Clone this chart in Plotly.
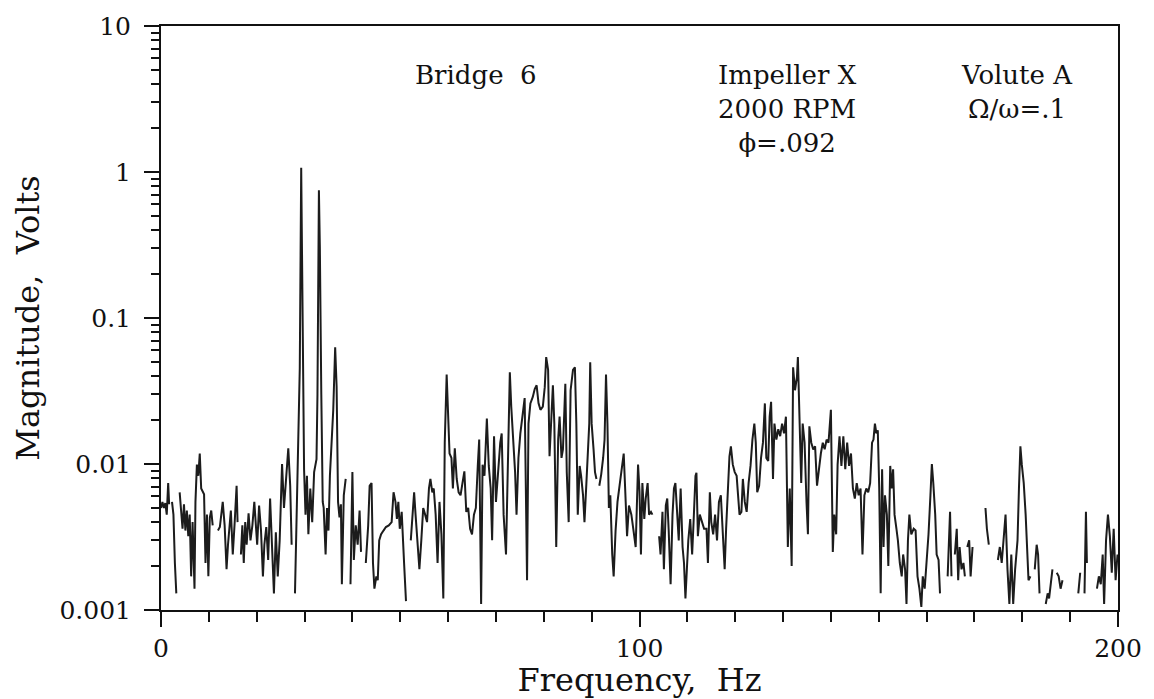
import plotly.graph_objects as go

# Spectrum (None = gap in trace)
freq_hz = [
    0.0, 0.3, 0.6, 0.9, 1.2, 1.5, 1.7, 2.0,
    2.3, 2.6, 2.9, 3.2, 3.5,
    3.9, 4.2, 4.5, 4.8, 5.1, 5.4, 5.7, 6.0, 6.3, 6.6, 7.0, 7.2, 7.5, 7.8, 8.1, 8.4, 8.7, 9.0, 9.3, 9.6, 9.9, 10.2, 10.5, 10.8, 11.3,
    11.9, 12.3, 12.9, 13.3, 13.7, 14.0, 14.6, 15.0, 15.4, 15.8, 16.0, 16.3,
    16.7, 17.0, 17.3, 17.6, 17.9, 18.3, 18.7, 19.1, 19.5, 19.8, 20.1, 20.5, 20.9, 21.3, 21.6, 22.0, 22.4, 22.8, 23.2, 23.6, 24.0, 24.4, 24.8, 25.3, 25.7, 26.2, 26.6, 27.0, 27.3, 27.6,
    28.0, 28.3, 28.6, 29.0, 29.3, 29.6, 29.9, 30.2, 30.5, 30.8, 31.2, 31.6, 32.0, 32.5, 32.7, 33.0, 33.2, 33.5, 33.8, 34.0, 34.4, 34.7, 35.0, 35.3, 36.0, 36.4, 36.7, 37.0, 37.3, 37.6, 37.8, 38.2, 38.6, 39.1,
    39.6, 40.0, 40.3, 40.7, 41.1, 41.5, 41.8, 42.3,
    42.8, 43.3, 43.6, 44.0, 44.3, 44.6, 45.0, 45.3, 45.6, 46.0, 46.5, 47.0, 47.6, 48.2, 48.6, 49.0, 49.3,
    49.6, 49.9, 50.3, 50.8, 51.2, 51.7,
    52.2, 52.6, 52.9, 53.2, 53.6, 54.0, 54.4, 54.8, 55.2, 55.6, 56.0, 56.3, 56.7, 57.0, 57.4, 57.8, 58.2, 58.6, 59.0, 59.3, 59.7, 60.0, 60.3, 60.7, 61.0, 61.4, 61.8, 62.2, 62.6, 63.0, 63.4, 63.8, 64.2, 64.6, 65.0, 65.4, 65.8, 66.2, 66.5, 66.9, 67.2, 67.6, 68.1, 68.5, 68.9, 69.2, 69.6, 70.0, 70.5, 70.9, 71.2, 71.6, 72.1, 72.5, 72.9, 73.2, 73.6, 74.0, 74.3, 74.7, 75.1, 75.5, 76.0, 76.5, 76.8, 77.2, 77.7, 78.1, 78.5, 78.9, 79.3, 79.8, 80.2, 80.5, 80.9, 81.2, 81.5, 81.9, 82.2, 82.6, 83.0, 83.3, 83.7, 84.0, 84.5, 84.8, 85.2, 85.6, 86.1, 86.5, 86.8, 87.1, 87.5, 87.8, 88.2, 88.5, 88.9, 89.2, 89.5, 89.7, 90.0, 90.4, 90.7, 91.0, 91.3,
    91.6, 92.0, 92.4, 92.7, 93.0, 93.3, 93.6, 93.9, 94.3, 94.6, 95.0, 95.4, 95.9, 96.3, 96.7, 97.0, 97.4, 97.8, 98.3, 98.7, 99.2, 99.7, 100.0, 100.3, 100.6, 101.0, 101.3, 101.7, 102.0, 102.4, 102.7, 103.4,
    104.1, 104.4, 104.8, 105.1, 105.5, 105.8, 106.1, 106.5, 106.9, 107.2, 107.5, 107.9, 108.2, 108.6, 109.0, 109.3, 109.6, 109.9, 110.2, 110.6, 111.0, 111.3, 111.7, 111.9, 112.2, 112.6, 113.0, 113.5, 114.0, 114.3, 114.7, 115.0, 115.4, 115.8, 116.2, 116.6, 117.0, 117.4, 117.8, 118.1, 118.4, 118.8, 119.1, 119.5, 119.9, 120.3, 120.6, 120.9, 121.3, 121.6, 122.0, 122.4, 122.8, 123.2, 123.6, 124.0, 124.3, 124.6, 125.0, 125.4, 125.8, 126.2, 126.5, 126.9, 127.2, 127.5, 127.9, 128.2, 128.6, 129.0, 129.4, 129.8, 130.2, 130.6, 131.0, 131.4, 131.8, 132.1, 132.5, 132.9, 133.1, 133.4, 133.8, 134.1, 134.5, 134.9, 135.2, 135.5, 135.9, 136.3, 136.7, 137.1, 137.5, 137.9, 138.3, 138.7, 139.1, 139.5, 140.0, 140.4, 140.7, 141.1, 141.4, 141.8, 142.2, 142.6, 143.0, 143.4, 143.8, 144.2, 144.6, 145.0, 145.4, 145.8, 146.2, 146.6, 147.0, 147.4, 147.8, 148.2, 148.6, 148.9,
    149.2, 149.5, 149.8, 150.1, 150.4, 150.7, 151.0, 151.3, 151.7, 152.0, 152.4, 152.7, 153.0, 153.3, 153.7, 154.0, 154.4, 154.8, 155.1, 155.5, 155.8, 156.1, 156.4, 156.8, 157.3, 157.7, 158.1, 158.5, 158.9, 159.2, 159.6, 160.0, 160.4, 160.8, 161.1, 161.4, 161.8, 162.1, 162.5, 162.8, 163.5,
    164.4, 164.9, 165.2, 165.5,
    165.9, 166.3, 166.6, 166.9, 167.3, 167.7, 168.0, 168.2,
    168.5, 168.9, 169.2, 169.6, 170.5,
    172.3, 172.6, 173.0, 173.8,
    174.9, 175.3, 175.7, 176.1, 176.5, 176.9, 177.3, 177.7, 178.1, 178.5, 179.0, 179.3, 179.6, 179.9, 180.3, 180.7, 181.0, 181.3, 181.7, 182.1,
    182.6, 183.0, 183.3, 183.6, 184.2,
    184.9, 185.3, 185.6, 186.0, 186.3, 186.7,
    187.2, 187.6, 188.0, 188.4, 190.0,
    191.7, 192.1, 192.5,
    193.0, 193.3, 193.5, 194.5,
    195.6, 196.0, 196.4, 196.8, 197.1, 197.5, 197.9, 198.3, 198.7, 199.1, 199.5, 199.9,
]

magnitude_v = [
    0.0050, 0.0055, 0.0050, 0.0054, 0.0045, 0.0074, 0.0053, None,
    0.0055, 0.0045, 0.0021, 0.0013, None,
    0.0064, 0.0050, 0.0036, 0.0053, 0.0035, 0.0048, 0.0032, 0.0045, 0.0017, 0.0040, 0.0014, 0.0055, 0.0099, 0.0083, 0.0118, 0.0068, 0.0065, 0.0062, 0.0021, 0.0045, 0.0017, 0.0043, 0.0048, 0.0038, None,
    0.0035, 0.0037, 0.0055, 0.0038, 0.0019, 0.0028, 0.0048, 0.0024, 0.0040, 0.0071, 0.0040, None,
    0.0024, 0.0038, 0.0021, 0.0040, 0.0028, 0.0046, 0.0030, 0.0038, 0.0055, 0.0040, 0.0028, 0.0052, 0.0035, 0.0017, 0.0028, 0.0037, 0.0022, 0.0058, 0.0028, 0.0013, 0.0034, 0.0017, 0.0030, 0.0100, 0.0050, 0.0088, 0.0128, 0.0071, 0.0028, None,
    0.0013, 0.0040, 0.0140, 0.045, 1.07, 0.045, 0.0092, 0.0045, 0.0083, 0.0033, 0.0068, 0.0040, 0.0088, 0.0108, 0.030, 0.75, 0.30, 0.030, 0.0055, 0.0050, 0.0024, 0.0050, 0.0035, 0.0083, 0.0235, 0.063, 0.034, 0.0055, 0.0043, 0.0053, 0.0015, 0.0061, 0.0079, None,
    0.0015, 0.0088, 0.0022, 0.0038, 0.0028, 0.0048, 0.0025, None,
    0.0021, 0.0038, 0.0071, 0.0074, 0.0021, 0.0014, 0.0017, 0.0016, 0.0030, 0.0033, 0.0035, 0.0037, 0.0038, 0.0040, 0.0064, 0.0055, 0.0042,
    0.0055, 0.0036, 0.0047, 0.0021, 0.00115, None,
    0.0030, 0.0052, 0.0064, 0.0045, 0.0030, 0.0019, 0.0030, 0.0050, 0.0045, 0.0040, 0.0068, 0.0079, 0.0064, 0.0068, 0.0045, 0.0021, 0.0055, 0.0033, 0.0012, 0.0140, 0.041, 0.0235, 0.0118, 0.0110, 0.0068, 0.0128, 0.0079, 0.0064, 0.0061, 0.0074, 0.0089, 0.0047, 0.0050, 0.0036, 0.0033, 0.0045, 0.0050, 0.0097, 0.0147, 0.0011, 0.0099, 0.0083, 0.0205, 0.0097, 0.0068, 0.0030, 0.0155, 0.0055, 0.0097, 0.0140, 0.0162, 0.0045, 0.0024, 0.0110, 0.0425, 0.0247, 0.0140, 0.0088, 0.0045, 0.0110, 0.0162, 0.0202, 0.0283, 0.0016, 0.0189, 0.0260, 0.0288, 0.0326, 0.0346, 0.0260, 0.0235, 0.0247, 0.0336, 0.054, 0.0442, 0.0113, 0.0189, 0.0346, 0.0189, 0.0027, 0.0147, 0.0211, 0.0110, 0.0126, 0.0354, 0.0088, 0.0040, 0.0320, 0.0442, 0.046, 0.0189, 0.0045, 0.0097, 0.0083, 0.0061, 0.0040, 0.0074, 0.0118, 0.0189, 0.0497, 0.0189, 0.0126, 0.0088, 0.0079, None,
    0.0071, 0.0085, 0.0110, 0.0147, 0.041, 0.0189, 0.0050, 0.0061, 0.0024, 0.0017, 0.0035, 0.0055, 0.0074, 0.0097, 0.0118, 0.0068, 0.0032, 0.0052, 0.0045, 0.0036, 0.0027, 0.0099, 0.0065, 0.0024, 0.0074, 0.0042, 0.0058, 0.0074, 0.0045, 0.0047, 0.0045, None,
    0.0032, 0.0024, 0.0047, 0.0019, 0.0052, 0.0058, 0.0035, 0.0015, 0.0045, 0.0068, 0.0074, 0.0045, 0.0030, 0.0068, 0.0027, 0.0021, 0.0012, 0.0019, 0.0030, 0.0042, 0.0024, 0.0040, 0.0083, 0.0087, 0.0032, 0.0045, 0.0040, 0.0036, 0.0036, 0.0021, 0.0064, 0.0040, 0.0033, 0.0045, 0.0030, 0.0055, 0.0061, 0.0030, 0.0019, 0.0036, 0.0061, 0.0113, 0.0132, 0.0099, 0.0088, 0.0083, 0.0061, 0.0045, 0.0047, 0.0079, 0.0055, 0.0047, 0.0074, 0.0097, 0.0147, 0.0189, 0.0140, 0.0064, 0.0071, 0.0110, 0.0140, 0.0260, 0.0110, 0.0105, 0.0211, 0.0267, 0.0079, 0.0189, 0.0147, 0.0173, 0.0155, 0.0189, 0.0162, 0.0211, 0.0027, 0.0068, 0.0020, 0.046, 0.0320, 0.0393, 0.054, 0.0189, 0.0074, 0.0189, 0.0140, 0.0055, 0.0033, 0.0181, 0.0140, 0.0126, 0.0132, 0.0071, 0.0097, 0.0118, 0.0140, 0.0126, 0.0147, 0.0140, 0.0235, 0.0025, 0.0045, 0.0033, 0.0099, 0.0155, 0.0097, 0.0155, 0.0092, 0.0140, 0.0097, 0.0118, 0.0068, 0.0058, 0.0074, 0.0061, 0.0068, 0.0024, 0.0061, 0.0068, 0.0064, 0.0074, 0.0140, 0.0147,
    0.0189, 0.0162, 0.0170, 0.0068, 0.0013, 0.0092, 0.0027, 0.0061, 0.0045, 0.0020, 0.0097, 0.0068, 0.0092, 0.0045, 0.0036, 0.0030, 0.0021, 0.0017, 0.0024, 0.0019, 0.0011, 0.0030, 0.0045, 0.0033, 0.0036, 0.0035, 0.0017, 0.0014, 0.00105, 0.0017, 0.0014, 0.0021, 0.0033, 0.0061, 0.0100, 0.0074, 0.0045, 0.0024, 0.0022, 0.0013, None,
    0.0017, 0.0047, 0.0017, None,
    0.0024, 0.0036, 0.0016, 0.0027, 0.0019, 0.0021, 0.0017, None,
    0.0027, 0.0030, 0.0017, 0.0027, None,
    0.0050, 0.0036, 0.0028, None,
    0.0022, 0.0027, 0.0021, 0.0030, 0.0045, 0.0019, 0.0011, 0.0024, 0.0011, 0.0019, 0.0030, 0.0068, 0.0132, 0.0099, 0.0074, 0.0045, 0.0024, 0.0016, 0.0017, None,
    0.0019, 0.0028, 0.0024, 0.0013, None,
    0.0011, 0.0013, 0.0012, 0.0016, 0.0019, None,
    0.0018, 0.0017, 0.0014, 0.0016, None,
    0.0013, 0.0018, None,
    0.0013, 0.0047, 0.0021, None,
    0.0014, 0.0017, 0.0015, 0.0024, 0.0011, 0.0030, 0.0045, 0.0032, 0.0018, 0.0036, 0.0016, 0.0024,
]

x_tick_vals = [0, 100, 200]
x_tick_text = ["0", "100", "200"]
y_tick_vals = [0.001, 0.01, 0.1, 1, 10]
y_tick_text = ["0.001", "0.01", "0.1", "1", "10"]
y_minor_vals = [m * 10.0 ** e for e in (-3, -2, -1, 0) for m in range(2, 10)]

FONT = "DejaVu Serif"
INK = "#111"

# plot area geometry (px) used to place the paper-referenced labels
L, R, T, B = 161, 1127, 23, 616
PW, PH = R - L, B - T

def px(xp):
    return (xp - L) / PW

def py(yp):
    return (B - yp) / PH

fig = go.Figure()
fig.add_trace(go.Scatter(
    x=freq_hz, y=magnitude_v, mode="lines",
    line=dict(color="#1c1c1c", width=2),
    connectgaps=False, hoverinfo="skip", showlegend=False,
))

ann_font = dict(family=FONT, size=26, color=INK)
fig.add_annotation(text="Bridge  6", x=px(479), y=py(73),
                   xref="paper", yref="paper", showarrow=False,
                   xanchor="center", yanchor="middle", font=ann_font)
fig.add_annotation(text="Impeller X<br>2000 RPM<br>\u03d5=.092", x=px(793), y=py(73 - 17),
                   xref="paper", yref="paper", showarrow=False, align="center",
                   xanchor="center", yanchor="top", font=ann_font)
fig.add_annotation(text="Volute A<br>\u03a9/\u03c9=.1", x=px(1025), y=py(73 - 17),
                   xref="paper", yref="paper", showarrow=False, align="center",
                   xanchor="center", yanchor="top", font=ann_font)

fig.update_layout(
    width=1154, height=699,
    margin=dict(l=L, r=1154 - R, t=T, b=699 - B),
    paper_bgcolor="white", plot_bgcolor="white",
    font=dict(family=FONT, color=INK),
)
fig.update_xaxes(
    range=[0, 200], showgrid=False, zeroline=False,
    showline=True, linecolor=INK, linewidth=2, mirror=True,
    tickmode="array", tickvals=x_tick_vals, ticktext=x_tick_text,
    ticks="outside", ticklen=15, tickwidth=2, tickcolor=INK,
    minor=dict(dtick=10, tick0=0, ticks="outside", ticklen=10, tickwidth=1.5, tickcolor=INK, showgrid=False),
    tickfont=dict(family=FONT, size=25, color=INK),
    title=dict(text="Frequency,  Hz", font=dict(family=FONT, size=32, color=INK), standoff=2),
)
fig.update_yaxes(
    type="log", range=[-3, 1], showgrid=False, zeroline=False,
    showline=True, linecolor=INK, linewidth=2, mirror=True,
    tickmode="array", tickvals=y_tick_vals, ticktext=y_tick_text,
    ticks="outside", ticklen=15, tickwidth=2, tickcolor=INK,
    minor=dict(tickmode="array", tickvals=y_minor_vals, ticks="outside", ticklen=8, tickwidth=1.5, tickcolor=INK, showgrid=False),
    tickfont=dict(family=FONT, size=25, color=INK),
    ticklabelstandoff=8,
    title=dict(text="Magnitude,  Volts", font=dict(family=FONT, size=32, color=INK), standoff=10),
)

fig.write_html("out.html")
